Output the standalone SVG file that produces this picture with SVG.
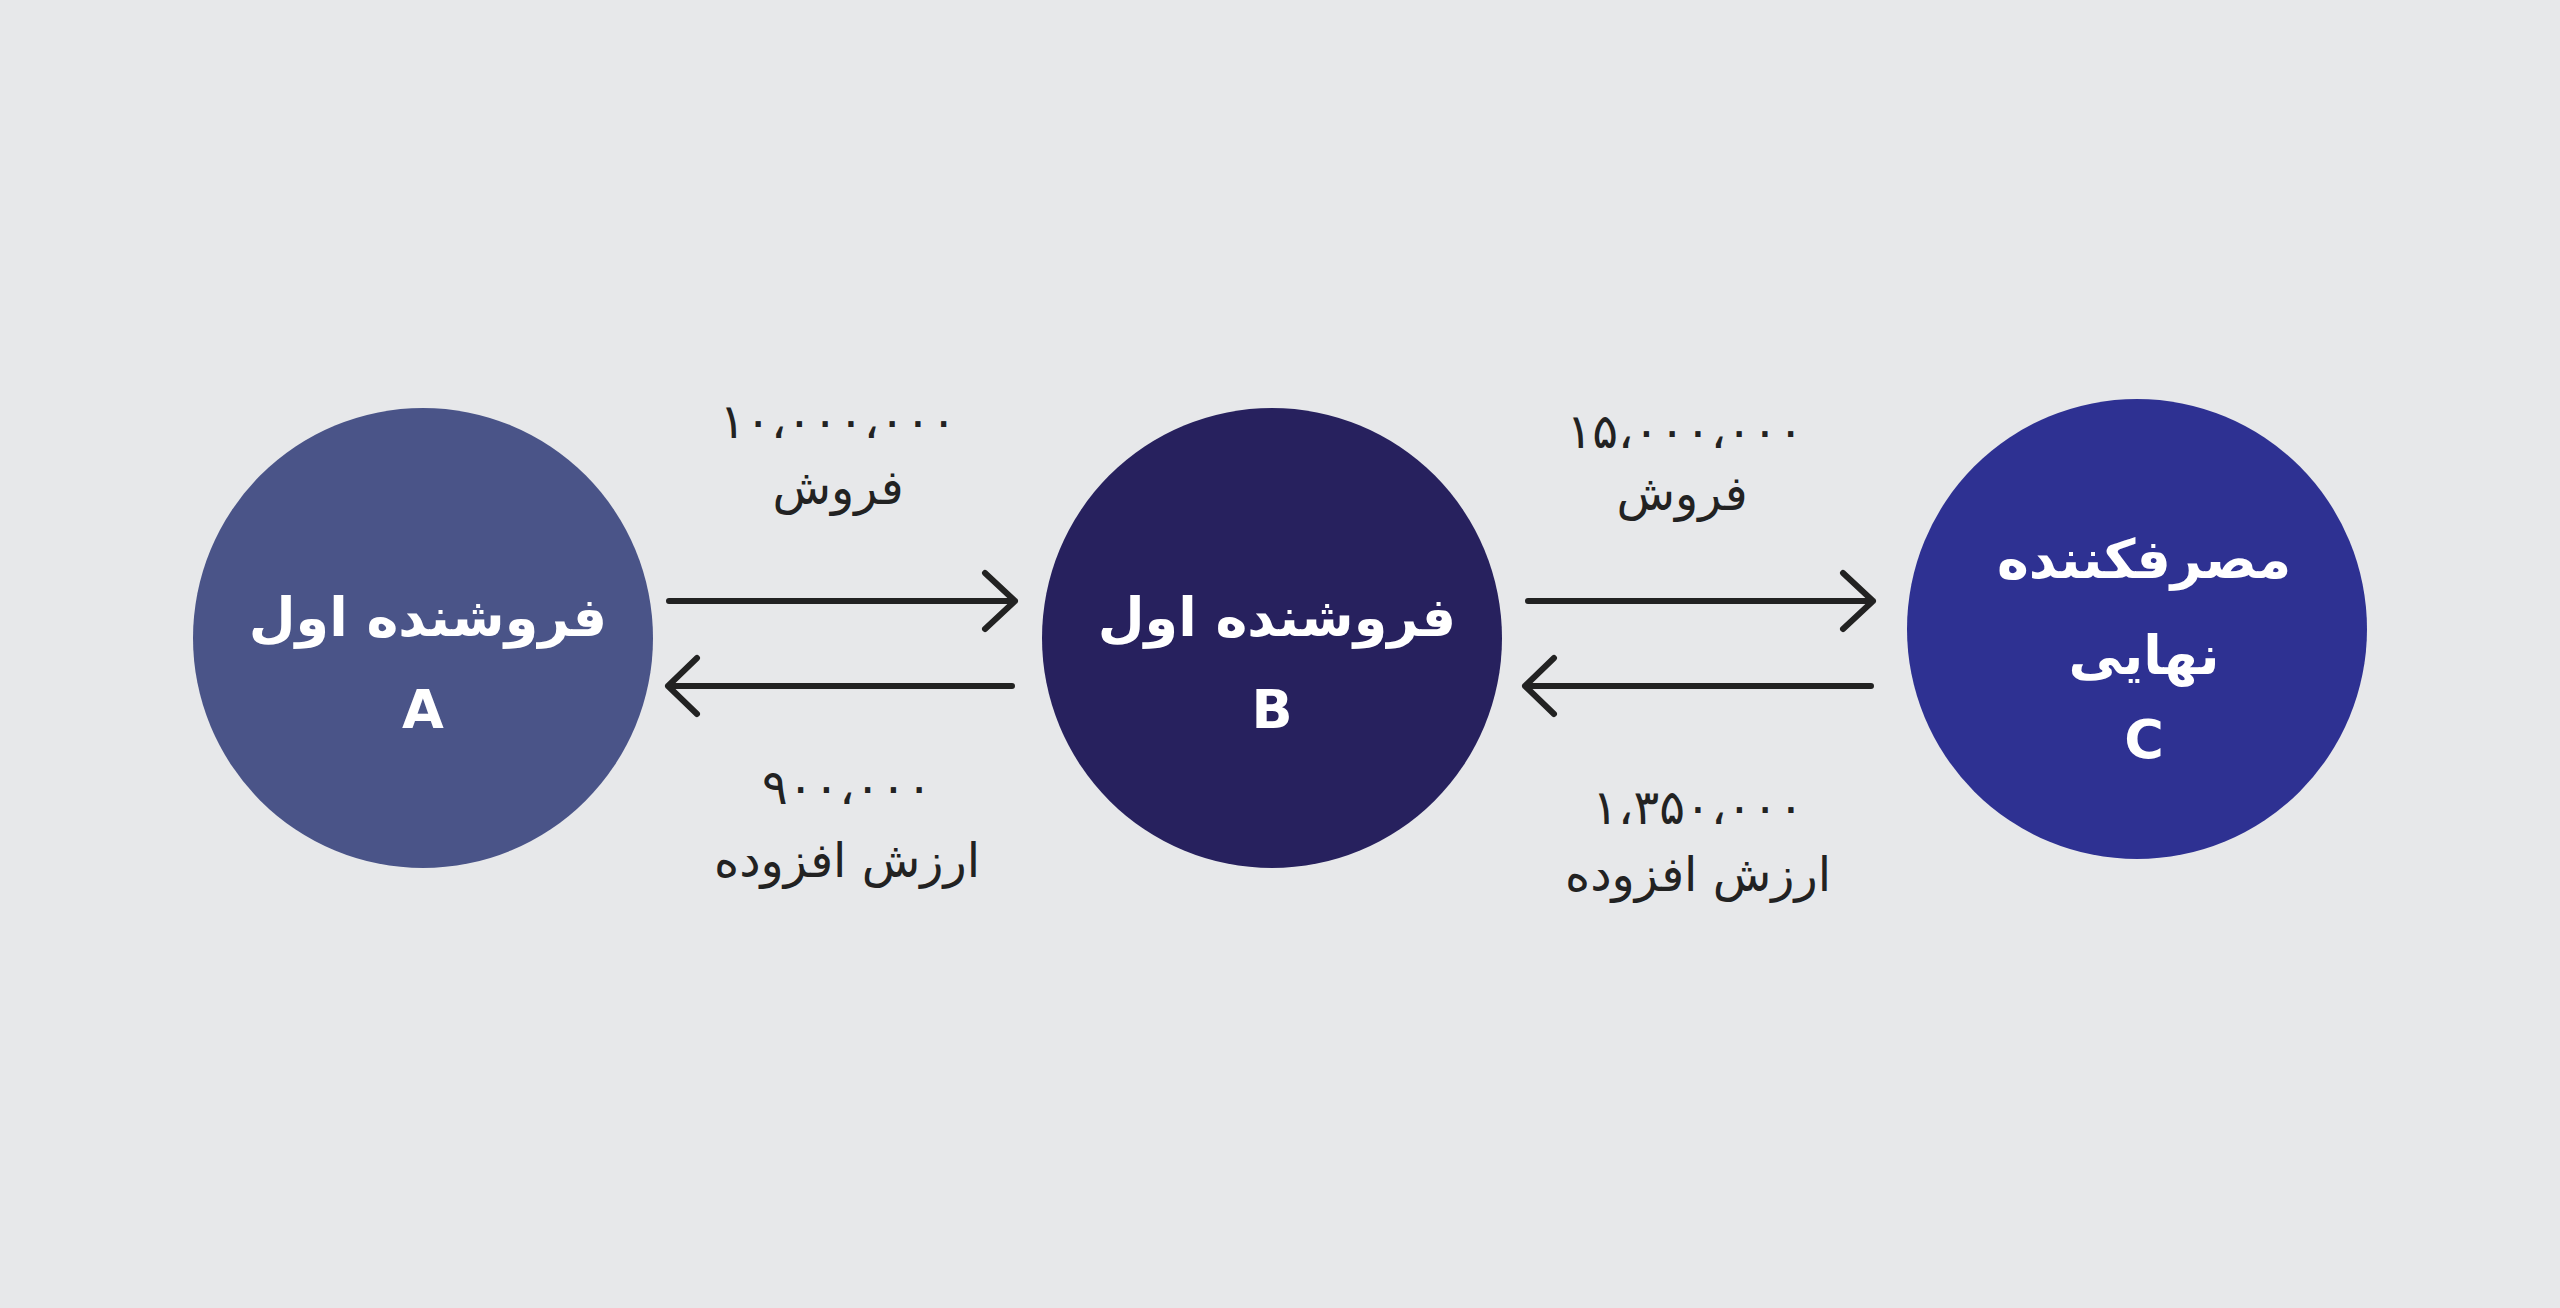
<svg xmlns="http://www.w3.org/2000/svg" width="2560" height="1308" viewBox="0 0 2560 1308">
<style>
.n{font-family:"DejaVu Sans",sans-serif;font-weight:bold;font-size:54px;fill:#fff;text-anchor:middle}
.l{font-family:"DejaVu Sans",sans-serif;font-size:48px;fill:#222;text-anchor:middle}
.c{stroke:#222;stroke-width:6;fill:none;stroke-linecap:round;stroke-linejoin:round}
</style>
<rect width="2560" height="1308" fill="#e7e8ea"/>
<g id="nodeA"><circle cx="423" cy="638" r="230" fill="#4a5488"/><text class="n" x="428" y="636" direction="rtl">فروشنده اول</text><text class="n" x="423" y="728">A</text></g>
<g id="nodeB"><circle cx="1272" cy="638" r="230" fill="#27215e"/><text class="n" x="1277" y="636" direction="rtl">فروشنده اول</text><text class="n" x="1272" y="728">B</text></g>
<g id="nodeC"><circle cx="2137" cy="629" r="230" fill="#2e3192"/><text class="n" x="2144" y="578" direction="rtl">مصرفکننده</text><text class="n" x="2144" y="674" direction="rtl">نهایی</text><text class="n" x="2144" y="758">C</text></g>
<g id="connectors">
<path class="c" d="M669 601H1015M985 573L1015 601L985 629"/>
<path class="c" d="M1012 686H668M697 658L668 686L697 714"/>
<path class="c" d="M1528 601H1873M1843 573L1873 601L1843 629"/>
<path class="c" d="M1871 686H1525M1554 658L1525 686L1554 714"/>
</g>
<g id="labels">
<text class="l" x="838" y="438">۱۰،۰۰۰،۰۰۰</text>
<text class="l" x="838" y="504" direction="rtl">فروش</text>
<text class="l" x="847" y="804">۹۰۰،۰۰۰</text>
<text class="l" x="847" y="877" direction="rtl">ارزش افزوده</text>
<text class="l" x="1685" y="448">۱۵،۰۰۰،۰۰۰</text>
<text class="l" x="1682" y="510" direction="rtl">فروش</text>
<text class="l" x="1698" y="824">۱،۳۵۰،۰۰۰</text>
<text class="l" x="1698" y="891" direction="rtl">ارزش افزوده</text>
</g>
</svg>
